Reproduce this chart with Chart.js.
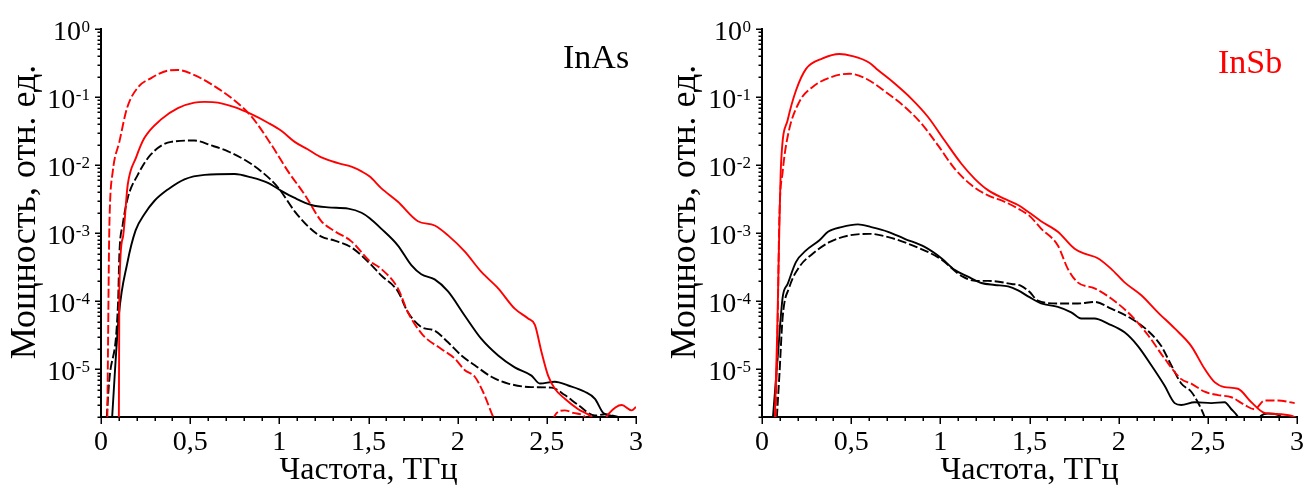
<!DOCTYPE html>
<html>
<head>
<meta charset="utf-8">
<script src="https://cdn.jsdelivr.net/npm/chart.js@4.4.0/dist/chart.umd.min.js"></script>
<style>
  html, body { margin: 0; padding: 0; background: #fff; }
  #wrap { position: relative; width: 1305px; height: 488px; overflow: hidden; }
  canvas { position: absolute; top: 0; }
</style>
</head>
<body>
<div id="wrap">
  <canvas id="inas" width="652" height="488" style="left:0"></canvas>
  <canvas id="insb" width="653" height="488" style="left:652px"></canvas>
</div>
<script>
// ---- data: [frequency THz, power rel. units] ----
const inasRedSolid = [[0.100,1.2e-6],[0.103,1.5e-4],[0.122,8.5e-4],[0.150,5.2e-3],[0.197,1.3e-2],[0.243,2.5e-2],[0.337,4.7e-2],[0.431,6.9e-2],[0.524,8.3e-2],[0.581,8.5e-2],[0.655,8.3e-2],[0.749,7.1e-2],[0.843,5.6e-2],[0.936,4.2e-2],[1.011,3.2e-2],[1.086,2.2e-2],[1.161,1.7e-2],[1.236,1.3e-2],[1.330,1.07e-2],[1.404,9.5e-3],[1.461,8.1e-3],[1.507,6.8e-3],[1.571,4.6e-3],[1.665,2.9e-3],[1.777,1.5e-3],[1.871,1.3e-3],[1.946,9.3e-4],[2.039,5.4e-4],[2.133,2.7e-4],[2.227,1.55e-4],[2.320,7.8e-5],[2.395,5.6e-5],[2.433,4.5e-5],[2.470,1.8e-5],[2.507,8.1e-6],[2.545,5.2e-6],[2.601,3.7e-6],[2.676,2.6e-6],[2.751,2.0e-6],[2.800,1.4e-6],[2.845,2.2e-6],[2.920,3.0e-6],[2.976,2.5e-6],[3.000,2.8e-6]];
const inasRedDash = [[0.035,1.3e-6],[0.040,3.2e-5],[0.045,6.3e-4],[0.049,2.1e-3],[0.066,8.1e-3],[0.103,2.2e-2],[0.146,6.9e-2],[0.206,0.138],[0.281,0.19],[0.375,0.245],[0.431,0.25],[0.524,0.21],[0.618,0.155],[0.749,8.9e-2],[0.843,5.2e-2],[0.955,2.0e-2],[1.049,8.1e-3],[1.142,3.7e-3],[1.236,1.5e-3],[1.311,1.07e-3],[1.404,7.6e-4],[1.507,3.9e-4],[1.571,3.0e-4],[1.665,1.55e-4],[1.721,6.9e-5],[1.805,3.2e-5],[1.908,2.0e-5],[1.983,1.45e-5],[2.039,9.8e-6],[2.096,7.8e-6],[2.142,4.7e-6],[2.199,2.0e-6],[2.250,1.0e-6],[2.350,5e-7],[2.450,5e-7],[2.520,1.2e-6],[2.545,2.1e-6],[2.600,2.5e-6],[2.648,2.3e-6],[2.713,2.0e-6],[2.760,1.2e-6]];
const inasBlackSolid = [[0.058,1.3e-6],[0.101,6.6e-5],[0.147,3.6e-4],[0.194,1.1e-3],[0.243,1.9e-3],[0.300,3.0e-3],[0.375,4.4e-3],[0.468,6.2e-3],[0.581,7.2e-3],[0.749,7.4e-3],[0.843,6.6e-3],[0.936,5.5e-3],[1.011,4.2e-3],[1.086,3.3e-3],[1.180,2.6e-3],[1.273,2.4e-3],[1.386,2.3e-3],[1.461,2.0e-3],[1.507,1.66e-3],[1.571,1.17e-3],[1.665,6.6e-4],[1.740,3.4e-4],[1.796,2.5e-4],[1.871,2.1e-4],[1.946,1.4e-4],[2.039,6.2e-5],[2.133,2.8e-5],[2.227,1.6e-5],[2.320,1.07e-5],[2.414,8.1e-6],[2.461,6.2e-6],[2.545,6.6e-6],[2.620,5.8e-6],[2.713,4.7e-6],[2.770,3.7e-6],[2.816,2.3e-6],[2.860,2.1e-6],[2.900,2.0e-6],[3.000,1.95e-6]];
const inasBlackDash = [[0.028,1.3e-6],[0.045,6.3e-6],[0.096,1.0e-4],[0.103,4.9e-4],[0.122,1.35e-3],[0.150,3.3e-3],[0.206,7.2e-3],[0.281,1.45e-2],[0.393,2.2e-2],[0.524,2.3e-2],[0.618,1.95e-2],[0.712,1.6e-2],[0.805,1.2e-2],[0.899,8.1e-3],[0.993,4.7e-3],[1.086,2.1e-3],[1.161,1.26e-3],[1.236,8.9e-4],[1.311,7.8e-4],[1.404,6.2e-4],[1.507,3.6e-4],[1.571,2.4e-4],[1.665,1.4e-4],[1.721,6.9e-5],[1.796,4.2e-5],[1.871,3.7e-5],[1.946,2.5e-5],[2.021,1.6e-5],[2.096,1.15e-5],[2.189,7.8e-6],[2.283,6.2e-6],[2.414,5.5e-6],[2.526,5.4e-6],[2.601,4.2e-6],[2.676,3.0e-6],[2.770,2.1e-6],[2.826,2.2e-6],[2.900,2.0e-6],[3.000,1.9e-6]];

const insbRedSolid = [[0.070,1.3e-6],[0.085,3.2e-5],[0.097,1.1e-3],[0.107,1.07e-2],[0.144,4.6e-2],[0.191,0.126],[0.247,0.26],[0.340,0.37],[0.434,0.43],[0.507,0.40],[0.602,0.32],[0.650,0.25],[0.744,0.158],[0.837,9.5e-2],[0.931,5.1e-2],[1.024,2.3e-2],[1.118,1.05e-2],[1.193,6.3e-3],[1.267,4.3e-3],[1.361,3.2e-3],[1.436,2.6e-3],[1.500,2.0e-3],[1.565,1.5e-3],[1.659,1.05e-3],[1.753,5.9e-4],[1.809,5.0e-4],[1.883,4.3e-4],[1.958,3.0e-4],[2.033,1.9e-4],[2.127,1.23e-4],[2.220,6.9e-5],[2.314,4.0e-5],[2.407,2.2e-5],[2.482,1.02e-5],[2.538,6.5e-6],[2.594,5.5e-6],[2.669,5.2e-6],[2.744,3.3e-6],[2.818,2.3e-6],[2.912,2.2e-6],[2.987,2.0e-6],[3.000,1.9e-6]];
const insbRedDash = [[0.075,1.3e-6],[0.088,5e-5],[0.097,1.6e-3],[0.116,8.0e-3],[0.146,2.8e-2],[0.209,8.5e-2],[0.284,0.141],[0.396,0.20],[0.490,0.22],[0.584,0.186],[0.707,0.112],[0.800,7.2e-2],[0.893,4.1e-2],[0.987,1.95e-2],[1.080,8.9e-3],[1.174,5.1e-3],[1.267,3.6e-3],[1.361,2.9e-3],[1.436,2.3e-3],[1.500,1.8e-3],[1.565,1.17e-3],[1.659,6.6e-4],[1.715,3.0e-4],[1.770,1.9e-4],[1.865,1.55e-4],[1.958,1.1e-4],[2.070,6.2e-5],[2.164,3.2e-5],[2.257,1.45e-5],[2.351,7.2e-6],[2.407,6.2e-6],[2.482,4.7e-6],[2.557,4.2e-6],[2.632,3.9e-6],[2.707,3.0e-6],[2.762,2.6e-6],[2.818,3.5e-6],[2.893,3.5e-6],[2.987,3.2e-6]];
const insbBlackSolid = [[0.056,1.3e-6],[0.088,1.5e-5],[0.116,1.15e-4],[0.144,1.8e-4],[0.191,3.8e-4],[0.247,5.6e-4],[0.322,7.9e-4],[0.370,1.05e-3],[0.445,1.23e-3],[0.538,1.35e-3],[0.613,1.23e-3],[0.707,1.05e-3],[0.800,8.3e-4],[0.912,6.3e-4],[1.006,4.3e-4],[1.080,2.9e-4],[1.155,2.3e-4],[1.230,1.86e-4],[1.305,1.74e-4],[1.380,1.66e-4],[1.436,1.45e-4],[1.500,1.15e-4],[1.565,9.3e-5],[1.659,8.3e-5],[1.734,6.9e-5],[1.790,5.6e-5],[1.865,5.6e-5],[1.940,4.7e-5],[2.033,3.5e-5],[2.108,2.2e-5],[2.183,1.15e-5],[2.257,5.8e-6],[2.314,3.2e-6],[2.351,3.0e-6],[2.426,3.3e-6],[2.520,3.2e-6],[2.594,3.3e-6],[2.632,2.6e-6],[2.669,2.0e-6],[2.700,1.3e-6],[2.760,1.5e-6],[2.800,2.1e-6],[2.837,2.25e-6],[2.893,2.15e-6],[2.930,1.8e-6],[2.960,1.3e-6]];
const insbBlackDash = [[0.079,1.3e-6],[0.097,7.8e-6],[0.116,5.9e-5],[0.153,1.6e-4],[0.209,3.2e-4],[0.284,5.0e-4],[0.378,7.4e-4],[0.490,9.3e-4],[0.602,9.8e-4],[0.714,8.7e-4],[0.864,6.3e-4],[0.995,4.3e-4],[1.126,2.3e-4],[1.200,2.0e-4],[1.267,2.0e-4],[1.400,1.8e-4],[1.450,1.7e-4],[1.500,1.38e-4],[1.547,1.02e-4],[1.659,9.3e-5],[1.771,9.3e-5],[1.865,9.8e-5],[1.958,7.8e-5],[2.070,5.6e-5],[2.164,3.7e-5],[2.239,2.2e-5],[2.295,1.15e-5],[2.351,6.2e-6],[2.407,4.7e-6],[2.444,3.3e-6],[2.482,2.0e-6],[2.520,1.0e-6]];

// axes
const xMin = 0, xMax = 3;
const yMin = 2e-6, yMax = 1;
const xTickValues = [0, 0.5, 1, 1.5, 2, 2.5, 3];
const xTickLabels = ['0', '0,5', '1', '1,5', '2', '2,5', '3'];
const yTickValues = [1, 1e-1, 1e-2, 1e-3, 1e-4, 1e-5];
const yTickExps = ['0', '-1', '-2', '-3', '-4', '-5'];
const xTitle = 'Частота, ТГц';
const yTitle = 'Мощность, отн. ед.';

const FONT = '"Liberation Serif", "Times New Roman", serif';

// ticks, tick labels, titles and the material label
const axisDecor = {
  id: 'axisDecor',
  afterDraw(chart, args, opts) {
    const ctx = chart.ctx, xs = chart.scales.x, ys = chart.scales.y, a = chart.chartArea;
    ctx.save();
    ctx.strokeStyle = '#000';
    ctx.fillStyle = '#000';
    ctx.lineWidth = 1.5;

    // y ticks (log, minor 2..9)
    for (let e = 0; e >= -6; e--) {
      for (let m = 1; m <= 9; m++) {
        const v = m * Math.pow(10, e);
        if (v < yMin * 0.999 || v > yMax * 1.001) continue;
        const y = Math.round(ys.getPixelForValue(v)) + 0.25;
        ctx.beginPath();
        ctx.moveTo(a.left - (m === 1 ? 6 : 3.5), y);
        ctx.lineTo(a.left, y);
        ctx.stroke();
      }
    }
    // x ticks every 0.1
    for (let i = 0; i <= 30; i++) {
      const x = Math.round(xs.getPixelForValue(i / 10)) + 0.25;
      ctx.beginPath();
      ctx.moveTo(x, a.bottom);
      ctx.lineTo(x, a.bottom + (i % 5 === 0 ? 7 : 4));
      ctx.stroke();
    }

    // y tick labels 10^n
    ctx.textAlign = 'right';
    ctx.textBaseline = 'alphabetic';
    yTickValues.forEach((v, i) => {
      const y = ys.getPixelForValue(v);
      const supRight = a.left - 11;
      ctx.font = '17px ' + FONT;
      const w = ctx.measureText(yTickExps[i]).width;
      ctx.fillText(yTickExps[i], supRight, y + 3);
      ctx.font = '28px ' + FONT;
      ctx.fillText('10', supRight - w - 0.5, y + 10.5);
    });

    // x tick labels
    ctx.textAlign = 'center';
    ctx.font = '28px ' + FONT;
    xTickValues.forEach((v, i) => {
      ctx.fillText(xTickLabels[i], xs.getPixelForValue(v), 450);
    });

    // axis titles
    ctx.font = '32px ' + FONT;
    ctx.fillText(xTitle, (a.left + a.right) / 2, 479);
    ctx.save();
    ctx.translate(opts.yTitleX, 212);
    ctx.rotate(-Math.PI / 2);
    ctx.font = '36px ' + FONT;
    ctx.fillText(yTitle, 0, 0);
    ctx.restore();

    // material label
    ctx.textAlign = 'left';
    ctx.font = '34px ' + FONT;
    ctx.fillStyle = opts.labelColor;
    ctx.fillText(opts.label, opts.labelX, opts.labelY);
    ctx.restore();
  }
};

function makeDataset(points, color, dashed) {
  return {
    data: points.map(p => ({ x: p[0], y: p[1] })),
    borderColor: color,
    borderWidth: 1.9,
    borderDash: dashed ? [9, 3] : [],
    pointRadius: 0,
    fill: false,
    cubicInterpolationMode: 'monotone',
    clip: 0
  };
}

function makeChart(id, datasets, cfg) {
  return new Chart(document.getElementById(id), {
    type: 'line',
    data: { datasets: datasets },
    options: {
      responsive: false,
      animation: false,
      devicePixelRatio: 1,
      layout: { padding: { top: 29, right: cfg.padRight, left: 0, bottom: 0 } },
      plugins: { legend: { display: false }, tooltip: { enabled: false }, axisDecor: cfg },
      scales: {
        x: {
          type: 'linear', min: xMin, max: xMax,
          grid: { display: false }, ticks: { display: false },
          border: { color: '#000', width: 2 },
          afterFit: s => { s.height = 71; }
        },
        y: {
          type: 'logarithmic', min: yMin, max: yMax,
          grid: { display: false }, ticks: { display: false },
          border: { color: '#000', width: 2 },
          afterFit: s => { s.width = cfg.axisLeft; }
        }
      }
    },
    plugins: [axisDecor]
  });
}

makeChart('inas', [
  makeDataset(inasRedDash, '#ff0000', true),
  makeDataset(inasRedSolid, '#ff0000', false),
  makeDataset(inasBlackDash, '#000000', true),
  makeDataset(inasBlackSolid, '#000000', false)
], { axisLeft: 101, padRight: 16, yTitleX: 35, label: 'InAs', labelColor: '#000', labelX: 563, labelY: 68 });

makeChart('insb', [
  makeDataset(insbRedDash, '#ff0000', true),
  makeDataset(insbRedSolid, '#ff0000', false),
  makeDataset(insbBlackDash, '#000000', true),
  makeDataset(insbBlackSolid, '#000000', false)
], { axisLeft: 110, padRight: 8, yTitleX: 43, label: 'InSb', labelColor: '#ff0000', labelX: 566, labelY: 73 });
</script>
</body>
</html>
